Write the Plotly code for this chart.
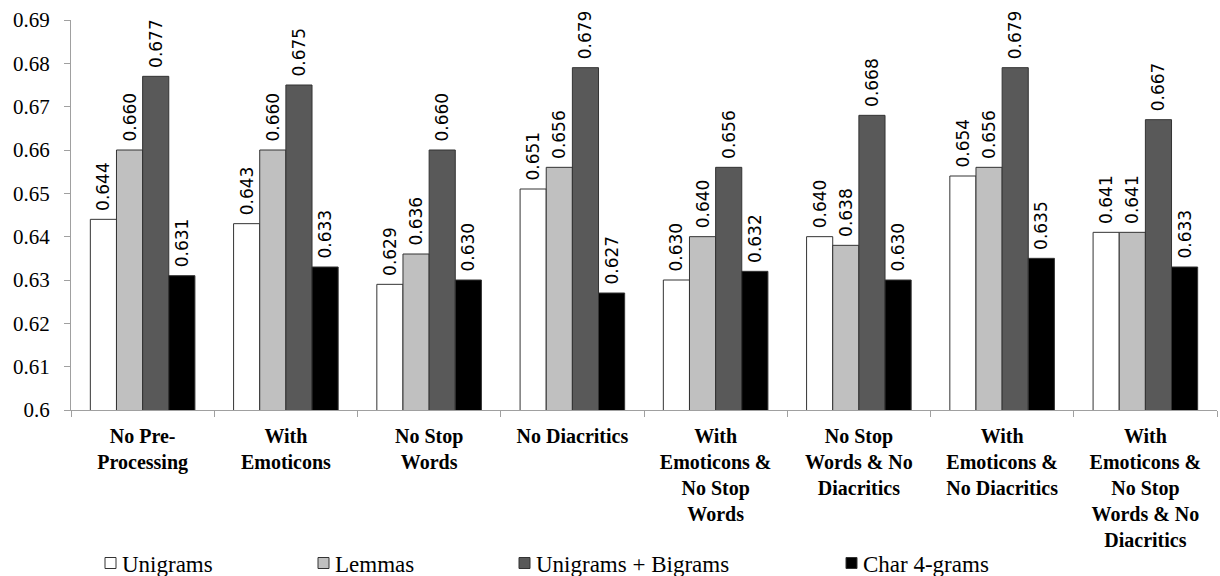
import plotly.graph_objects as go

categories = [
    "No Pre-<br>Processing",
    "With<br>Emoticons",
    "No Stop<br>Words",
    "No Diacritics",
    "With<br>Emoticons &<br>No Stop<br>Words",
    "No Stop<br>Words & No<br>Diacritics",
    "With<br>Emoticons &<br>No Diacritics",
    "With<br>Emoticons &<br>No Stop<br>Words & No<br>Diacritics",
]

unigrams = [0.644, 0.643, 0.629, 0.651, 0.630, 0.640, 0.654, 0.641]
lemmas = [0.660, 0.660, 0.636, 0.656, 0.640, 0.638, 0.656, 0.641]
uni_bigrams = [0.677, 0.675, 0.660, 0.679, 0.656, 0.668, 0.679, 0.667]
char4grams = [0.631, 0.633, 0.630, 0.627, 0.632, 0.630, 0.635, 0.633]

series_names = ["Unigrams", "Lemmas", "Unigrams + Bigrams", "Char 4-grams"]
series_values = [unigrams, lemmas, uni_bigrams, char4grams]
series_colors = ["#FFFFFF", "#C0C0C0", "#595959", "#000000"]

y_ticks = [0.60, 0.61, 0.62, 0.63, 0.64, 0.65, 0.66, 0.67, 0.68, 0.69]
y_tick_labels = ["0.6", "0.61", "0.62", "0.63", "0.64", "0.65", "0.66", "0.67", "0.68", "0.69"]

W, H = 1220, 576
ML, MR, MT, MB = 71, 3, 20, 166
plot_w = W - ML - MR
plot_h = H - MT - MB


def px_x(px):
    return (px - ML) / plot_w


def px_y(py):
    return (MT + plot_h - py) / plot_h


fig = go.Figure()
for name, vals, col in zip(series_names, series_values, series_colors):
    fig.add_trace(go.Bar(
        x=categories, y=vals, name=name,
        marker=dict(color=col, line=dict(color="#333333", width=1)),
        texttemplate="\u00a0%{y:.3f}", textposition="outside", textangle=-90,
        textfont=dict(family="DejaVu Sans", size=17, color="#000000"),
        cliponaxis=False, constraintext="none",
    ))

# legend row drawn as swatches + labels along the bottom
legend_swatch_px = [105, 318, 519, 846]
legend_center_y = 563
swatch = 11
for name, col, sx in zip(series_names, series_colors, legend_swatch_px):
    fig.add_shape(
        type="rect", xref="paper", yref="paper",
        x0=px_x(sx), x1=px_x(sx + swatch),
        y0=px_y(legend_center_y + swatch / 2), y1=px_y(legend_center_y - swatch / 2),
        fillcolor=col, line=dict(color="#333333", width=1),
    )
    fig.add_annotation(
        xref="paper", yref="paper", x=px_x(sx + swatch + 4), y=px_y(legend_center_y + 1),
        xanchor="left", yanchor="middle", showarrow=False, text=name,
        font=dict(family="Liberation Serif", size=23, color="#000000"),
    )

fig.update_layout(
    width=W, height=H,
    margin=dict(l=ML, r=MR, t=MT, b=MB, autoexpand=False),
    plot_bgcolor="#FFFFFF", paper_bgcolor="#FFFFFF",
    barmode="group", bargap=0.27, bargroupgap=0,
    showlegend=False,
    xaxis=dict(
        type="category", tickson="boundaries", ticks="outside", ticklen=6,
        tickcolor="#A0A0A0", showline=True, linecolor="#A0A0A0", linewidth=1,
        showgrid=False, automargin=False, ticklabelstandoff=8,
        tickfont=dict(family="Liberation Serif", size=20, color="#000000", weight="bold"),
    ),
    yaxis=dict(
        range=[0.6, 0.69], tickvals=y_ticks, ticktext=y_tick_labels,
        ticks="outside", ticklen=6, tickcolor="#A0A0A0",
        showline=True, linecolor="#A0A0A0", linewidth=1, showgrid=False,
        zeroline=False, automargin=False,
        tickfont=dict(family="Liberation Serif", size=21, color="#000000"),
        ticklabelstandoff=10,
    ),
)

fig.write_html("out.html")
